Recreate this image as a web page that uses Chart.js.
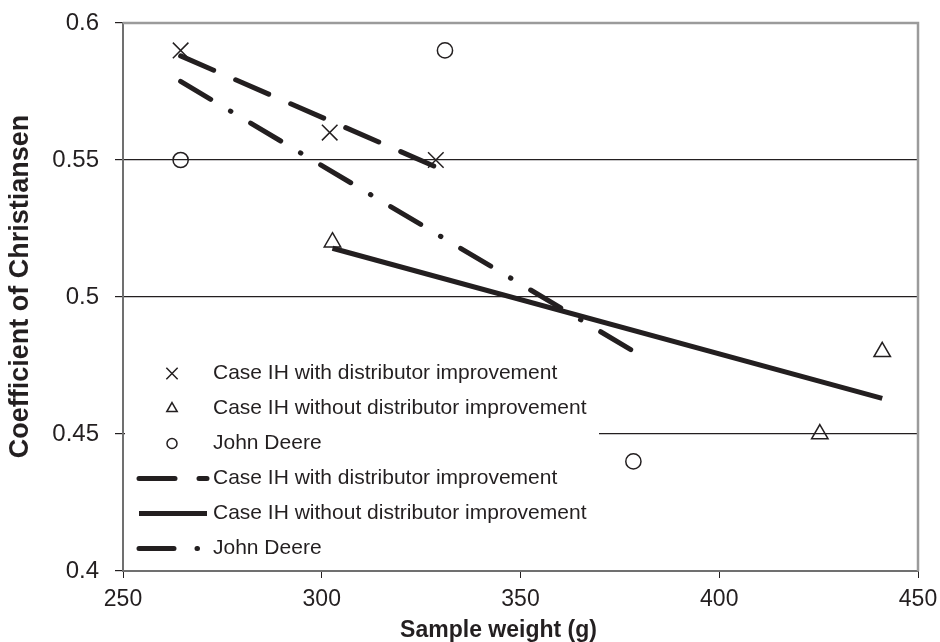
<!DOCTYPE html>
<html>
<head>
<meta charset="utf-8">
<script src="https://cdn.jsdelivr.net/npm/chart.js@4"></script>
<style>
  html, body { margin: 0; padding: 0; background: #fff; }
  #wrap { width: 940px; height: 642px; position: relative; }
</style>
</head>
<body>
<div id="wrap"><canvas id="chart"></canvas></div>
<script>
/* ── data ── */
const caseWithX = [264.5, 302, 328.7];
const caseWithY = [0.59, 0.56, 0.55];
const caseWithoutX = [302.7, 425.3, 441];
const caseWithoutY = [0.52, 0.45, 0.48];
const deereX = [264.5, 331, 378.4];
const deereY = [0.55, 0.59, 0.44];

// trend lines (end points)
const trendWithX = [264.5, 328.7];
const trendWithY = [0.588, 0.5475];
const trendWithoutX = [302.7, 441];
const trendWithoutY = [0.5178, 0.463];
const trendDeereX = [264.5, 378.4];
const trendDeereY = [0.5787, 0.4802];

const xTicks = [250, 300, 350, 400, 450];
const xTickLabels = ['250', '300', '350', '400', '450'];
const yTicks = [0.4, 0.45, 0.5, 0.55, 0.6];
const yTickLabels = ['0.4', '0.45', '0.5', '0.55', '0.6'];

const xTitle = 'Sample weight (g)';
const yTitle = 'Coefficient of Christiansen';

const INK = '#231f20';
const zip = (xs, ys) => xs.map((x, i) => ({ x, y: ys[i] }));

/* ── dataset helpers ── */
function markerSet(label, xs, ys, style, r, legendR) {
  return {
    label, data: zip(xs, ys),
    showLine: false,
    pointStyle: style, pointRadius: r, legendRadius: legendR,
    pointBorderWidth: 1.5, pointBorderColor: INK,
    pointBackgroundColor: 'rgba(0,0,0,0)'
  };
}
function trendSet(label, xs, ys, dash) {
  return {
    label, data: zip(xs, ys),
    showLine: true, pointRadius: 0,
    borderColor: INK, borderWidth: 5,
    borderDash: dash, borderCapStyle: dash.length ? 'round' : 'butt',
    tension: 0, isTrend: true
  };
}

const datasets = [
  markerSet('Case IH with distributor improvement', caseWithX, caseWithY, 'crossRot', 11, 8),
  markerSet('Case IH without distributor improvement', caseWithoutX, caseWithoutY, 'triangle', 9.5, 6),
  markerSet('John Deere', deereX, deereY, 'circle', 7.6, 5),
  trendSet('Case IH with distributor improvement', trendWithX, trendWithY, [36, 24]),
  trendSet('Case IH without distributor improvement', trendWithoutX, trendWithoutY, []),
  trendSet('John Deere', trendDeereX, trendDeereY, [35, 23, 0.5, 23])
];

/* ── legend inside the plot (bottom left) ── */
const insideLegend = {
  id: 'insideLegend',
  beforeDatasetsDraw(chart) {
    const ctx = chart.ctx;
    ctx.save();
    ctx.fillStyle = '#fff';
    ctx.fillRect(125, 352, 474, 217);
    ctx.font = '21px "Liberation Sans", Arial, sans-serif';
    ctx.textBaseline = 'middle';
    ctx.textAlign = 'left';
    chart.data.datasets.forEach((ds, i) => {
      const y = 373.5 + i * 35;
      ctx.strokeStyle = INK;
      ctx.fillStyle = INK;
      if (ds.isTrend) {
        ctx.lineWidth = ds.borderWidth;
        ctx.lineCap = ds.borderCapStyle;
        ctx.setLineDash(ds.borderDash);
        ctx.beginPath();
        ctx.moveTo(139, y);
        ctx.lineTo(207, y);
        ctx.stroke();
        ctx.setLineDash([]);
      } else {
        ctx.lineWidth = 1.5;
        ctx.fillStyle = 'rgba(0,0,0,0)';
        Chart.helpers.drawPoint(ctx, {
          pointStyle: ds.pointStyle, radius: ds.legendRadius, rotation: 0, borderWidth: 1.5
        }, 172, y);
      }
      ctx.fillStyle = INK;
      ctx.fillText(ds.label, 213, y);
    });
    ctx.restore();
  }
};

/* ── frame (top / right) and axis titles ── */
const frameAndTitles = {
  id: 'frameAndTitles',
  afterDraw(chart) {
    const { ctx, chartArea: a } = chart;
    ctx.save();
    ctx.strokeStyle = '#9b9b9b';
    ctx.lineWidth = 2.5;
    ctx.beginPath();
    ctx.moveTo(a.left, a.top);
    ctx.lineTo(a.right, a.top);
    ctx.lineTo(a.right, a.bottom);
    ctx.stroke();

    ctx.fillStyle = INK;
    ctx.font = 'bold 23px "Liberation Sans", Arial, sans-serif';
    ctx.textAlign = 'center';
    ctx.textBaseline = 'alphabetic';
    ctx.fillText(xTitle, 498.5, 637);

    ctx.translate(28, 286.5);
    ctx.rotate(-Math.PI / 2);
    ctx.font = 'bold 27px "Liberation Sans", Arial, sans-serif';
    ctx.fillText(yTitle, 0, 0);
    ctx.restore();
  }
};

// keep the plot box where the picture has it: no extra room for label overflow
function noOverflow(s) {
  s.paddingTop = 0; s.paddingBottom = 0; s.paddingLeft = 0; s.paddingRight = 0;
}

/* ── chart ── */
new Chart(document.getElementById('chart'), {
  type: 'scatter',
  data: { datasets },
  plugins: [insideLegend, frameAndTitles],
  options: {
    responsive: true,
    maintainAspectRatio: false,
    animation: false,
    events: [],
    layout: { padding: { top: 23, right: 22, left: 0, bottom: 0 } },
    plugins: { legend: { display: false }, tooltip: { enabled: false } },
    scales: {
      x: {
        type: 'linear', min: 250, max: 450,
        afterBuildTicks: s => { s.ticks = xTicks.map(v => ({ value: v })); },
        afterFit: s => { s.height = 71; noOverflow(s); },
        ticks: {
          color: INK, padding: 8,
          font: { family: '"Liberation Sans", Arial, sans-serif', size: 23 },
          callback: (v, i) => xTickLabels[i]
        },
        grid: { drawOnChartArea: false, drawTicks: true, tickLength: 7, tickColor: INK },
        border: { color: '#707070', width: 2 }
      },
      y: {
        type: 'linear', min: 0.4, max: 0.6,
        afterBuildTicks: s => { s.ticks = yTicks.map(v => ({ value: v })); },
        afterFit: s => { s.width = 123; noOverflow(s); },
        ticks: {
          color: INK, padding: 16,
          font: { family: '"Liberation Sans", Arial, sans-serif', size: 24 },
          callback: (v, i) => yTickLabels[i]
        },
        grid: {
          color: c => (c.tick && (c.tick.value === 0.4 || c.tick.value === 0.6)) ? 'rgba(0,0,0,0)' : INK,
          lineWidth: 1.2,
          tickLength: 8,
          tickColor: INK
        },
        border: { color: '#707070', width: 2 }
      }
    }
  }
});
</script>
</body>
</html>
